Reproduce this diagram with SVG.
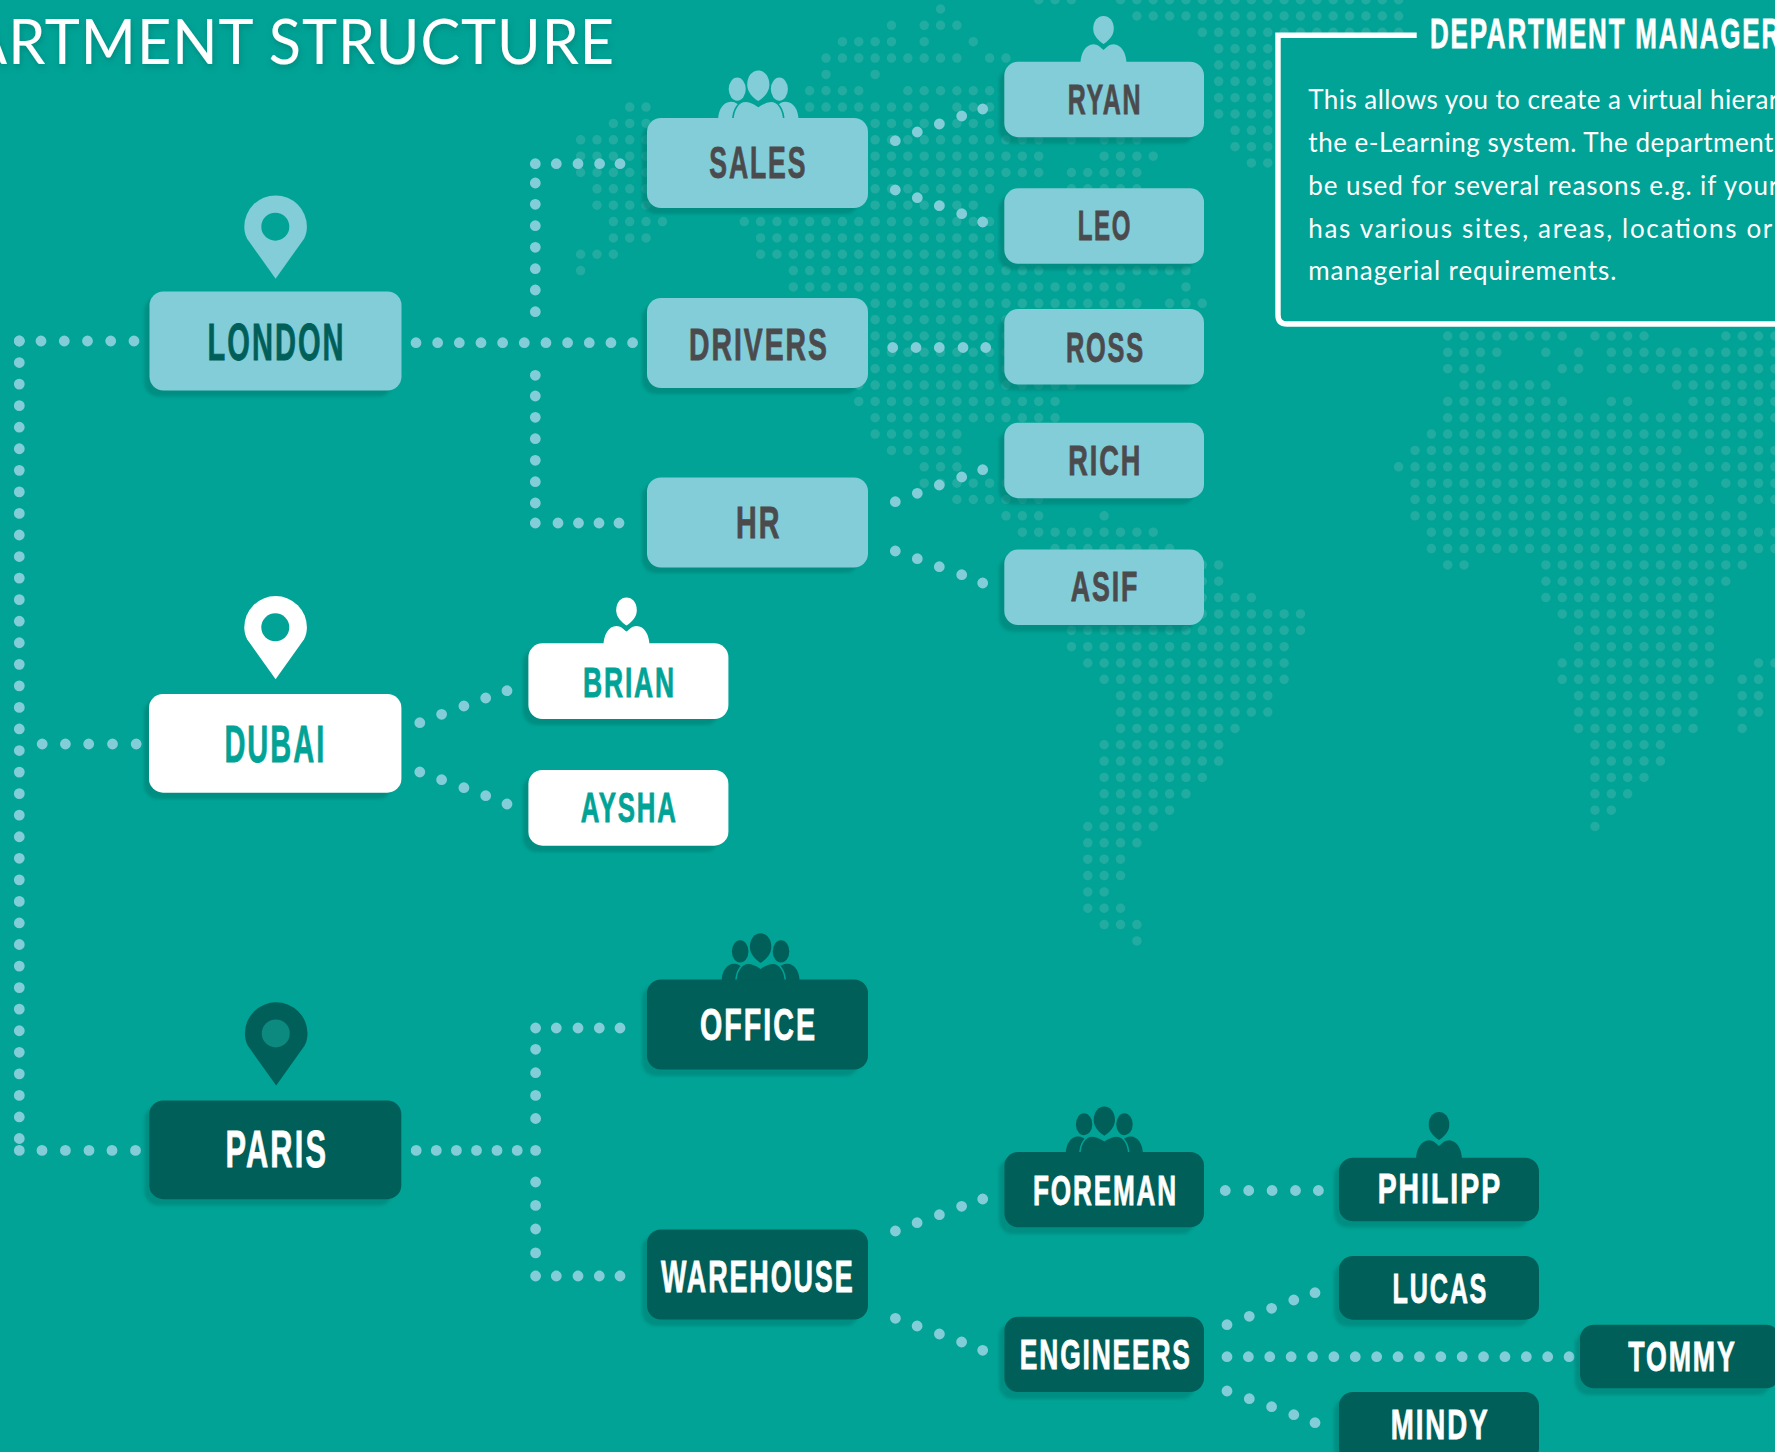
<svg xmlns="http://www.w3.org/2000/svg" xmlns:xlink="http://www.w3.org/1999/xlink" width="1775" height="1452" viewBox="0 0 1775 1452">
<style>
.map{fill:none;stroke:#22aca1;stroke-width:.58;stroke-linecap:round;stroke-dasharray:0 1}
.dots{fill:none;stroke:#82cdd8;stroke-width:10.8;stroke-linecap:round}
.lbl{font-family:"Liberation Sans Narrow","Liberation Sans",Arial,sans-serif;font-weight:700;letter-spacing:.07em;stroke-width:.8px}
.big{font-size:52px}.mid{font-size:45px}.sm{font-size:42px}
.box{rx:14px;ry:14px}
.sh{fill:#007d72;opacity:.55;filter:url(#soft)}
.light{fill:#82cdd8}.white{fill:#fff}.dark{fill:#005f58}
.tl{fill:#4b4a4d;stroke:#4b4a4d}.tlon{fill:#005f59;stroke:#005f59}.tw{fill:#00a396;stroke:#00a396}.td{fill:#fff;stroke:#fff}
.body{font-family:Lato,"Open Sans",sans-serif;font-size:26px;fill:#fff}
.sep{stroke:#00a396;stroke-width:1.6}
</style>
<defs>
<filter id="soft" x="-10%" y="-20%" width="120%" height="140%"><feGaussianBlur stdDeviation="1.6"/></filter>
<filter id="tsh" x="-5%" y="-30%" width="110%" height="170%"><feDropShadow dx="1" dy="3" stdDeviation="3" flood-color="#00695f" flood-opacity=".45"/></filter>
<path id="pin" d="M0 0L-28.5-40C-30.5-44-31.3-48-31.3-52A31.3 31.3 0 0 1 31.3-52C31.3-48 30.5-44 28.5-40Z"/>
<g id="person">
<path d="M-23 2C-23-8-18-17.4-10-17.4C-6-17.4-3-14.5 0-11.7C3-14.5 6-17.4 10-17.4C18-17.4 23-8 23 2Z"/>
<path d="M0-17.7C-5-21-10.3-26-10.3-33C-10.3-41-5.5-45.7 0-45.7C5.5-45.7 10.3-41 10.3-33C10.3-26 5-21 0-17.7Z"/>
</g>
<g id="people">
<path d="M-41 2C-41-8-36-16.5-28-16.5C-20-16.5-16-10-16 2Z"/>
<path d="M41 2C41-8 36-16.5 28-16.5C20-16.5 16-10 16 2Z"/>
<path class="sep" d="M-26 3C-26-9-20-17-13-17C-8-17-3-14 0-12C3-14 8-17 13-17C20-17 26-9 26 3Z"/>
<path d="M0-17.3C-6-21-11.3-27-11.3-34C-11.3-43-6-48.5 0-48.5C6-48.5 11.3-43 11.3-34C11.3-27 6-21 0-17.3Z"/>
<ellipse cx="-21.5" cy="-29.5" rx="8.7" ry="11.8"/>
<ellipse cx="21.5" cy="-29.5" rx="8.7" ry="11.8"/>
</g>
</defs>
<rect width="1775" height="1452" fill="#00a396"/>
<g id="world-map">
<path class="map" transform="translate(809.67 9) scale(16.36 16.35)" d="M8 0h.01M5 1h.01M7 1H9.01M2 2H5.01M7 2h.01M10 2h.01M1 3H9.01M11 3H12.01M1 4h.01M4 4h.01M0 5H3.01M6 5H11.01M-11 6H-9.99M0 6H7.01M9 6H11.01M-12 7H-9.99M4 7H11.01M-14 8H-9.99M4 8H14.01M16 8h.01M18 8H20.01M-14 9H-9.99M4 9H14.01M18 9H21.01M-14 10H-9.99M4 10H14.01M16 10H20.01M-13 11H-9.99M4 11H11.01M16 11H20.01M-13 12H-9.99M4 12H10.01M-12 13H-8.99M-4 13H11.01M-12 14H-9.99M-3 14H11.01M-14 15H-11.99M-3 15H11.01M-14 16h.01M-1 16H14.01M16 16H23.01M-1 17H19.01M23 17h.01M4 18H20.01M22 18H24.01M4 19H16.01M4 20H16.01M4 21H16.01M4 22H16.01M3 23H16.01M3 24H15.01M4 25H15.01M4 26H9.01M5 27H9.01M7 28H9.01M7 29H12.01M9 30H14.01M12 31H14.01M18 31h.01M13 32H21.01M15 33H22.01M15 34H25.01M15 35H25.01M15 36H27.01M15 37H30.01M16 38H30.01M16 39H29.01M17 40H29.01M18 41H29.01M19 42H28.01M19 43H28.01M19 44H26.01M18 45H25.01M18 46H25.01M18 47H24.01M18 48H23.01M18 49H22.01M17 50H21.01M17 51H20.01M17 52H19.01M17 53H19.01M17 54H18.01M17 55H19.01M18 56H20.01M20 57h.01M39 20H46.01M48 20H51.01M56 20H59.01M39 21H42.01M45 21h.01M47 21h.01M49 21H59.01M39 22H41.01M46 22H47.01M49 22H59.01M40 23H45.01M53 23H59.01M39 24H46.01M49 24H50.01M54 24H59.01M39 25H59.01M38 26H58.01M37 27H53.01M55 27H59.01M36 28H59.01M37 29H54.01M56 29H59.01M37 30H55.01M57 30H59.01M37 31H57.01M38 32H59.01M38 33H59.01M39 34H40.01M45 34H57.01M45 35H56.01M45 36H55.01M46 37H55.01M47 38H55.01M47 39H55.01M46 40H55.01M58 40H59.01M46 41H55.01M57 41H58.01M47 42H54.01M57 42H58.01M47 43H54.01M57 43H58.01M47 44H54.01M57 44h.01M48 45H52.01M48 46H52.01M48 47H51.01M48 48H50.01M48 49H49.01M48 50h.01"/>
<path class="map" transform="translate(809.67 16) scale(16.36 16.33)" d="M14-1H16.01M19-1H36.01M20 0H36.01M24 1H36.01M25 2H28.01M25 3H28.01M25 4H28.01M25 5H28.01M25 6H28.01M26 7H28.01M26 8H28.01M27 9H28.01"/>
</g>
<text id="page-title" class="body" x="-33" y="64" style="font-size:62px;letter-spacing:1px" textLength="648" lengthAdjust="spacingAndGlyphs" filter="url(#tsh)">ARTMENT STRUCTURE</text>
<g id="info-box">
<path d="M1416.7 35.2H1278V315Q1278 324 1287 324H1790V35.2H1416.7Z" fill="#00a396"/>
<path d="M1416.7 35.2H1278V315Q1278 324 1287 324H1790" fill="none" stroke="#fff" stroke-width="5.4"/>
<text class="lbl td" x="1430" y="48" style="font-size:42.5px" textLength="352" lengthAdjust="spacingAndGlyphs">DEPARTMENT MANAGER</text>
<text class="body" x="1308.3" y="108.7" textLength="470">This allows you to create a virtual hierar</text>
<text class="body" x="1308.3" y="151.7" textLength="465">the e-Learning system. The department</text>
<text class="body" x="1308.3" y="194.7" textLength="470">be used for several reasons e.g. if your</text>
<text class="body" x="1308.3" y="237.7" textLength="464">has various sites, areas, locations or</text>
<text class="body" x="1308.3" y="280" textLength="308">managerial requirements.</text>
</g>
<g id="connectors" class="dots">
<path id="trunk" stroke-dasharray="0 21.554" d="M19.3 341V1138.7"/>
<path d="M19.3 341h.01M41 341h.01M64.3 341h.01M87.5 341h.01M110.7 341h.01M134 341h.01"/>
<path d="M42.2 744h.01M65.4 744h.01M88.7 744h.01M112.5 744h.01M136.2 744h.01"/>
<path d="M19.3 1150.4h.01M42 1150.4h.01M65.4 1150.4h.01M89 1150.4h.01M112 1150.4h.01M135.5 1150.4h.01"/>
<path stroke-dasharray="0 21.66" d="M416 342.7H632.7"/>
<path d="M535.3 311.7h.01M535.3 290h.01M535.3 268.7h.01M535.3 247.3h.01M535.3 225.7h.01M535.3 204.3h.01M535.3 183h.01M535.3 163.7h.01M556.3 163.7h.01M578 163.7h.01M599.6 163.7h.01M620 163.7h.01"/>
<path d="M535.3 375.3h.01M535.3 396h.01M535.3 417.3h.01M535.3 438.7h.01M535.3 460.3h.01M535.3 481.7h.01M535.3 503h.01M535.3 523h.01M558 523h.01M578.5 523h.01M599 523h.01M619 523h.01"/>
<path d="M895.3 140.7h.01M917.3 132h.01M939.3 124h.01M961.7 116h.01M982.7 109h.01"/>
<path d="M895.3 190h.01M917.3 197.7h.01M939.3 205.7h.01M961.7 213.7h.01M982.7 222h.01"/>
<path d="M892.7 347.5h.01M916 347.5h.01M939.3 347.5h.01M963 347.5h.01M985.7 347.5h.01"/>
<path d="M895.3 501.7h.01M917.3 493.3h.01M939.3 485h.01M961.7 477h.01M982.7 469.7h.01"/>
<path d="M895.3 551h.01M917.3 558.7h.01M939.3 566.7h.01M961.7 574.7h.01M982.7 583h.01"/>
<path d="M419.8 722.7h.01M441.6 714.3h.01M463.9 706h.01M485.7 698h.01M507 690.7h.01"/>
<path d="M419.8 772h.01M441.6 779.7h.01M463.9 787.7h.01M485.7 795.7h.01M507 804h.01"/>
<path d="M416.2 1150.4h.01M436.3 1150.4h.01M456.4 1150.4h.01M476.5 1150.4h.01M497 1150.4h.01M517.2 1150.4h.01M535.6 1150.4h.01"/>
<path d="M535.6 1118.5h.01M535.6 1095.4h.01M535.6 1072.7h.01M535.6 1049.3h.01M535.6 1028h.01M556.3 1028h.01M578 1028h.01M599.3 1028h.01M620 1028h.01"/>
<path d="M535.6 1182h.01M535.6 1205.4h.01M535.6 1229h.01M535.6 1252.9h.01M535.6 1276h.01M556.3 1276h.01M578 1276h.01M599.3 1276h.01M620 1276h.01"/>
<path d="M895.4 1231h.01M917.1 1222.7h.01M939.4 1214.7h.01M961.6 1206.3h.01M982.7 1199h.01"/>
<path d="M895.4 1318.3h.01M917.1 1326h.01M939.4 1334h.01M961.6 1342h.01M982.7 1350.3h.01"/>
<path d="M1225.3 1190.5h.01M1248.7 1190.5h.01M1272.1 1190.5h.01M1295.5 1190.5h.01M1318.4 1190.5h.01"/>
<path d="M1227 1324.7h.01M1249.3 1316.3h.01M1271.6 1308.3h.01M1293.8 1300h.01M1315 1292.7h.01"/>
<path stroke-dasharray="0 21.38" d="M1227 1356.7H1569.1"/>
<path d="M1227 1391h.01M1249.3 1398.7h.01M1271.6 1406.7h.01M1293.8 1414.7h.01M1315 1422.7h.01"/>
</g>
<g id="london"><use href="#pin" x="275.6" y="278.7" class="light"/><circle cx="275.3" cy="226.7" r="14" fill="#00a396"/><rect class="box sh" x="144.5" y="297" width="248" height="99.5"/><rect class="box light" x="149.5" y="291.5" width="252" height="99"/><text class="lbl big tlon" x="207.6" y="360" textLength="138" lengthAdjust="spacingAndGlyphs">LONDON</text></g>
<g id="sales"><use href="#people" transform="translate(758.3 118) scale(.98)" class="light"/><rect class="box sh" x="642" y="124" width="217" height="90"/><rect class="box light" x="647" y="118" width="221" height="90"/><text class="lbl mid tl" x="709.3" y="178" textLength="98" lengthAdjust="spacingAndGlyphs">SALES</text></g>
<g id="drivers"><rect class="box sh" x="642" y="304" width="217" height="90"/><rect class="box light" x="647" y="298" width="221" height="90"/><text class="lbl mid tl" x="689" y="360" textLength="140" lengthAdjust="spacingAndGlyphs">DRIVERS</text></g>
<g id="hr"><rect class="box sh" x="642" y="483" width="217" height="90"/><rect class="box light" x="647" y="477.5" width="221" height="90"/><text class="lbl mid tl" x="736" y="538" textLength="45.5" lengthAdjust="spacingAndGlyphs">HR</text></g>
<g id="ryan"><use href="#person" x="1103.5" y="61.7" class="light"/><rect class="box sh" x="999" y="68" width="196" height="75.5"/><rect class="box light" x="1004.3" y="61.7" width="199.7" height="75.5"/><text class="lbl sm tl" x="1067.7" y="114.3" textLength="74.5" lengthAdjust="spacingAndGlyphs">RYAN</text></g>
<g id="leo"><rect class="box sh" x="999" y="194.5" width="196" height="75.5"/><rect class="box light" x="1004.3" y="188.3" width="199.7" height="75.5"/><text class="lbl sm tl" x="1077.7" y="240" textLength="54.5" lengthAdjust="spacingAndGlyphs">LEO</text></g>
<g id="ross"><rect class="box sh" x="999" y="315" width="196" height="75.5"/><rect class="box light" x="1004.3" y="309" width="199.7" height="75.5"/><text class="lbl sm tl" x="1066" y="361.5" textLength="79" lengthAdjust="spacingAndGlyphs">ROSS</text></g>
<g id="rich"><rect class="box sh" x="999" y="429" width="196" height="75.5"/><rect class="box light" x="1004.3" y="422.7" width="199.7" height="75.5"/><text class="lbl sm tl" x="1068.3" y="475" textLength="74" lengthAdjust="spacingAndGlyphs">RICH</text></g>
<g id="asif"><rect class="box sh" x="999" y="556" width="196" height="75.5"/><rect class="box light" x="1004.3" y="549.6" width="199.7" height="75.5"/><text class="lbl sm tl" x="1070.7" y="601" textLength="68.5" lengthAdjust="spacingAndGlyphs">ASIF</text></g>
<g id="dubai"><use href="#pin" x="275.6" y="679.3" class="white"/><circle cx="275.3" cy="627.3" r="14" fill="#00a396"/><rect class="box sh" x="144" y="699" width="248" height="100"/><rect class="box white" x="149" y="694" width="252.4" height="98.7"/><text class="lbl big tw" x="224.4" y="762" textLength="102" lengthAdjust="spacingAndGlyphs">DUBAI</text></g>
<g id="brian"><use href="#person" x="626.5" y="643.3" class="white"/><rect class="box sh" x="523" y="649" width="196" height="76"/><rect class="box white" x="528.4" y="643.3" width="200" height="75.7"/><text class="lbl sm tw" x="583" y="696.5" textLength="93" lengthAdjust="spacingAndGlyphs">BRIAN</text></g>
<g id="aysha"><rect class="box sh" x="523" y="776" width="196" height="76"/><rect class="box white" x="528.4" y="770" width="200" height="75.7"/><text class="lbl sm tw" x="580.7" y="822" textLength="97" lengthAdjust="spacingAndGlyphs">AYSHA</text></g>
<g id="paris"><use href="#pin" x="276.2" y="1085.6" class="dark"/><circle cx="275.8" cy="1033.4" r="14" fill="#0c8a80"/><rect class="box sh" x="144.5" y="1106" width="248" height="99.5"/><rect class="box dark" x="149.3" y="1100.5" width="252" height="98.7"/><text class="lbl big td" x="225.6" y="1167" textLength="102.5" lengthAdjust="spacingAndGlyphs">PARIS</text></g>
<g id="office"><use href="#people" transform="translate(760.6 979.4) scale(.95)" class="dark"/><rect class="box sh" x="642" y="985" width="217" height="91"/><rect class="box dark" x="647" y="979.4" width="221" height="90.2"/><text class="lbl mid td" x="700" y="1039.5" textLength="117" lengthAdjust="spacingAndGlyphs">OFFICE</text></g>
<g id="warehouse"><rect class="box sh" x="642" y="1235" width="217" height="91"/><rect class="box dark" x="647" y="1229.5" width="221" height="90"/><text class="lbl mid td" x="661" y="1291.7" textLength="193.5" lengthAdjust="spacingAndGlyphs">WAREHOUSE</text></g>
<g id="foreman"><use href="#people" transform="translate(1104.3 1152) scale(.94)" class="dark"/><rect class="box sh" x="999" y="1158" width="196" height="76"/><rect class="box dark" x="1004.4" y="1152" width="199.6" height="75.3"/><text class="lbl sm td" x="1033" y="1204.5" textLength="145" lengthAdjust="spacingAndGlyphs">FOREMAN</text></g>
<g id="engineers"><rect class="box sh" x="999" y="1323" width="196" height="76"/><rect class="box dark" x="1004.4" y="1316.7" width="199.6" height="75.3"/><text class="lbl sm td" x="1019.8" y="1368.5" textLength="172" lengthAdjust="spacingAndGlyphs">ENGINEERS</text></g>
<g id="philipp"><use href="#person" x="1439" y="1157.7" class="dark"/><rect class="box sh" x="1334" y="1163" width="196" height="64.5"/><rect class="box dark" x="1339" y="1157.7" width="200" height="63.6"/><text class="lbl sm td" x="1377.7" y="1203" textLength="124.4" lengthAdjust="spacingAndGlyphs">PHILIPP</text></g>
<g id="lucas"><rect class="box sh" x="1334" y="1262" width="196" height="64.5"/><rect class="box dark" x="1339" y="1256" width="200" height="63.7"/><text class="lbl sm td" x="1392.6" y="1302.5" textLength="95.6" lengthAdjust="spacingAndGlyphs">LUCAS</text></g>
<g id="tommy"><rect class="box sh" x="1575" y="1331" width="196" height="64"/><rect class="box dark" x="1580" y="1324.7" width="200" height="63.6"/><text class="lbl sm td" x="1628.3" y="1370.5" textLength="108.4" lengthAdjust="spacingAndGlyphs">TOMMY</text></g>
<g id="mindy"><rect class="box sh" x="1334" y="1398" width="196" height="64"/><rect class="box dark" x="1339" y="1392" width="200" height="70"/><text class="lbl sm td" x="1390.8" y="1438.5" textLength="98.7" lengthAdjust="spacingAndGlyphs">MINDY</text></g>
</svg>
